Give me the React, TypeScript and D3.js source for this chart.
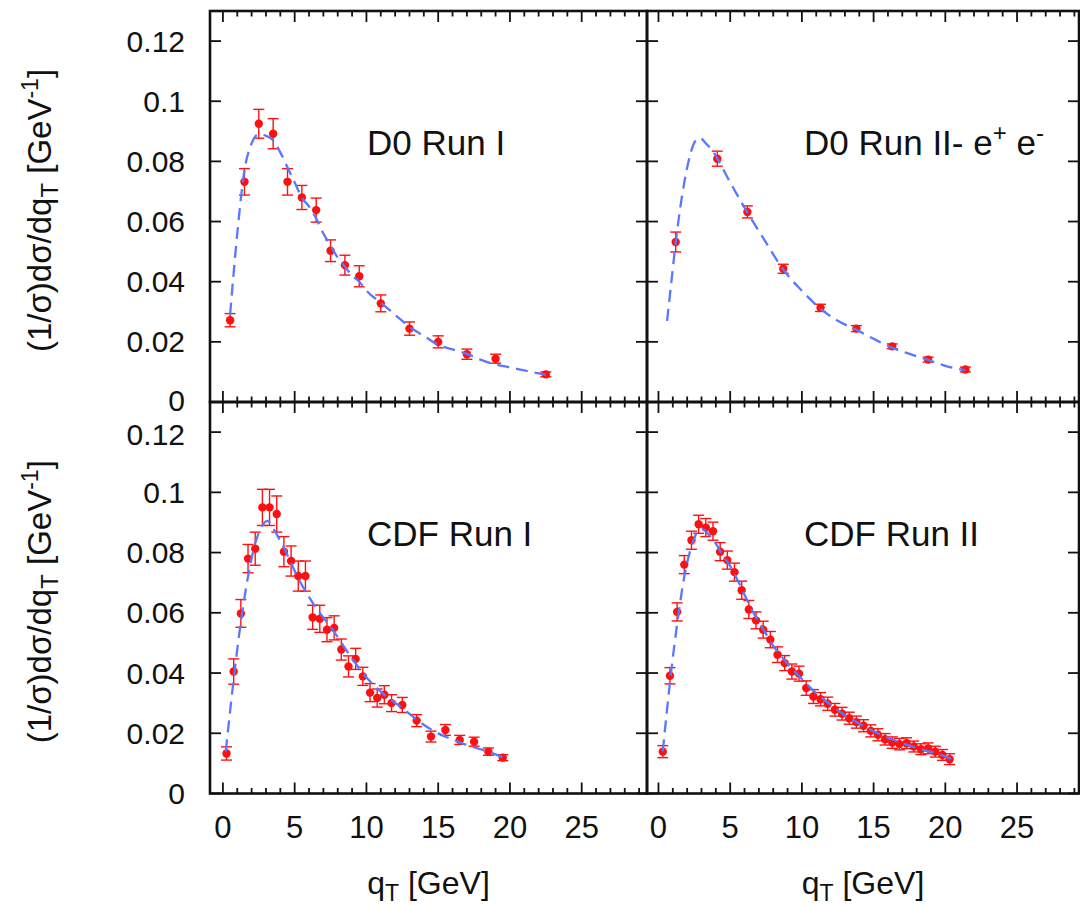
import React from "react";
import * as d3 from "d3";

// ---- axis ticks ----
const X_TICKS = [0, 5, 10, 15, 20, 25];
const X_TICK_LABELS = ["0", "5", "10", "15", "20", "25"];
const Y_TICKS = [0, 0.02, 0.04, 0.06, 0.08, 0.1, 0.12];
const Y_TICK_LABELS = ["0", "0.02", "0.04", "0.06", "0.08", "0.1", "0.12"];

// ---- D0 Run I ----
const d0r1Q = [0.5, 1.5, 2.5, 3.5, 4.5, 5.5, 6.5, 7.5, 8.5, 9.5, 11, 13, 15, 17, 19, 22.5];
const d0r1Val = [0.0272, 0.0732, 0.0925, 0.0892, 0.0732, 0.068, 0.0638, 0.0503, 0.0455, 0.0418, 0.0328, 0.0244, 0.02, 0.0159, 0.0144, 0.0092];
const d0r1Err = [0.0022, 0.0044, 0.0048, 0.005, 0.0044, 0.004, 0.004, 0.0036, 0.0033, 0.0035, 0.0028, 0.0022, 0.002, 0.0017, 0.0015, 0.0008];
const d0r1CurveQ = [0.5, 1, 1.5, 2, 2.5, 3, 3.5, 4, 4.5, 5, 5.5, 6, 6.5, 7, 7.5, 8, 8.5, 9, 9.5, 10, 11, 12, 13, 14, 15, 16, 17, 18, 19, 20, 21, 22, 22.5];
const d0r1CurveVal = [0.029, 0.056, 0.077, 0.086, 0.089, 0.0885, 0.087, 0.083, 0.078, 0.073, 0.068, 0.065, 0.061, 0.056, 0.052, 0.048, 0.045, 0.042, 0.04, 0.037, 0.033, 0.029, 0.025, 0.022, 0.019, 0.0175, 0.016, 0.014, 0.0125, 0.0115, 0.0105, 0.0095, 0.009];

// ---- D0 Run II, e+ e- ----
const d0r2Q = [1.2, 4.1, 6.2, 8.7, 11.3, 13.8, 16.3, 18.8, 21.4];
const d0r2Val = [0.0532, 0.0809, 0.0632, 0.0443, 0.0313, 0.0244, 0.0185, 0.0141, 0.0108];
const d0r2Err = [0.0033, 0.0025, 0.002, 0.0015, 0.0012, 0.001, 0.0008, 0.0008, 0.0008];
const d0r2CurveQ = [0.6, 0.9, 1.2, 1.5, 1.8, 2.2, 2.6, 2.9, 3.3, 3.7, 4.1, 5, 6.2, 7.5, 8.7, 10, 11.3, 12.5, 13.8, 15, 16.3, 17.5, 18.8, 20, 21.4];
const d0r2CurveVal = [0.027, 0.04, 0.053, 0.064, 0.073, 0.082, 0.087, 0.0878, 0.086, 0.084, 0.081, 0.073, 0.063, 0.053, 0.044, 0.037, 0.031, 0.027, 0.024, 0.021, 0.018, 0.016, 0.014, 0.012, 0.0105];

// ---- CDF Run I ----
const cdfr1Q = [0.25, 0.75, 1.25, 1.75, 2.25, 2.75, 3.25, 3.75, 4.25, 4.75, 5.25, 5.75, 6.25, 6.75, 7.25, 7.75, 8.25, 8.75, 9.25, 9.75, 10.25, 10.75, 11.25, 11.75, 12.5, 13.5, 14.5, 15.5, 16.5, 17.5, 18.5, 19.5];
const cdfr1Val = [0.0133, 0.0405, 0.0598, 0.078, 0.0813, 0.095, 0.095, 0.0928, 0.0803, 0.0772, 0.0722, 0.0722, 0.0585, 0.058, 0.0544, 0.055, 0.0478, 0.0422, 0.0447, 0.0389, 0.0335, 0.0317, 0.0328, 0.03, 0.0294, 0.0242, 0.0189, 0.0211, 0.0178, 0.0172, 0.0139, 0.0119];
const cdfr1Err = [0.0022, 0.0042, 0.0046, 0.0047, 0.0055, 0.006, 0.006, 0.006, 0.005, 0.005, 0.005, 0.005, 0.004, 0.0045, 0.004, 0.004, 0.0035, 0.0035, 0.0035, 0.003, 0.003, 0.003, 0.003, 0.0028, 0.0025, 0.002, 0.0018, 0.0018, 0.0015, 0.0015, 0.0012, 0.001];
const cdfr1CurveQ = [0.2, 0.8, 1.25, 1.75, 2.25, 2.75, 3.1, 3.5, 4.2, 5.3, 6.3, 7.7, 8.9, 10.1, 11.2, 12.6, 13.5, 14.6, 16.5, 18.8, 19.5];
const cdfr1CurveVal = [0.014, 0.04, 0.057, 0.072, 0.083, 0.089, 0.0905, 0.088, 0.082, 0.071, 0.063, 0.054, 0.0455, 0.038, 0.033, 0.028, 0.0245, 0.021, 0.017, 0.0133, 0.012];

// ---- CDF Run II ----
const cdfr2Q = [0.3, 0.8, 1.3, 1.8, 2.3, 2.8, 3.3, 3.8, 4.3, 4.8, 5.3, 5.8, 6.3, 6.8, 7.3, 7.8, 8.3, 8.8, 9.3, 9.8, 10.3, 10.8, 11.3, 11.8, 12.3, 12.8, 13.3, 13.8, 14.3, 14.8, 15.3, 15.8, 16.3, 16.8, 17.3, 17.8, 18.3, 18.8, 19.3, 19.8, 20.3];
const cdfr2Val = [0.0139, 0.0391, 0.0603, 0.076, 0.0841, 0.0894, 0.0883, 0.0871, 0.0803, 0.0775, 0.0735, 0.0675, 0.0611, 0.0575, 0.0544, 0.0511, 0.0461, 0.0433, 0.0405, 0.0398, 0.035, 0.0322, 0.0313, 0.0298, 0.0278, 0.0265, 0.025, 0.0237, 0.0225, 0.0208, 0.0195, 0.018, 0.0169, 0.0164, 0.0167, 0.0156, 0.0147, 0.015, 0.0139, 0.0128, 0.0114];
const cdfr2Err = [0.002, 0.0027, 0.003, 0.003, 0.003, 0.003, 0.003, 0.003, 0.003, 0.003, 0.003, 0.003, 0.003, 0.0028, 0.0028, 0.0027, 0.0026, 0.0025, 0.0025, 0.0025, 0.0024, 0.0023, 0.0022, 0.0022, 0.0021, 0.0021, 0.002, 0.002, 0.002, 0.002, 0.002, 0.0019, 0.0019, 0.0019, 0.0018, 0.0018, 0.0018, 0.0018, 0.0018, 0.0018, 0.0018];
const cdfr2CurveQ = [0.3, 0.85, 1.35, 1.8, 2.3, 2.8, 3.1, 3.5, 4, 4.5, 5, 5.5, 6, 6.5, 7, 7.5, 8, 8.5, 9, 9.5, 10, 10.5, 11, 12, 13, 14, 15, 16, 17, 18, 19, 20, 20.4];
const cdfr2CurveVal = [0.014, 0.039, 0.058, 0.072, 0.082, 0.0873, 0.0877, 0.086, 0.083, 0.079, 0.0755, 0.071, 0.066, 0.061, 0.057, 0.053, 0.049, 0.046, 0.043, 0.0405, 0.038, 0.0355, 0.0333, 0.0295, 0.026, 0.0232, 0.0207, 0.0185, 0.0167, 0.0152, 0.0138, 0.0123, 0.0115];

const FONT = "'Liberation Sans', Arial, Helvetica, sans-serif";
const RED = "#ff1010";
const BLUE = "#5a78ff";
const INK = "#111";

type PanelProps = {
  left: number;
  right: number;
  top: number;
  bottom: number;
  xDomain: [number, number];
  q: number[];
  val: number[];
  err: number[];
  curveQ: number[];
  curveVal: number[];
  title: React.ReactNode;
  yLabels: boolean;
  xLabels: boolean;
  // nudges the lowest / highest y tick label apart where two panels meet
  yLabelEdgeShift: [number, number];
};

function Panel(p: PanelProps) {
  const x = d3.scaleLinear().domain(p.xDomain).range([p.left, p.right]);
  const y = d3.scaleLinear().domain([0, 0.13]).range([p.bottom, p.top]);
  const majorLen = 11;
  const minorLen = 5.5;
  const minors = d3.range(0, 30).filter((v) => v % 5 !== 0 && v > p.xDomain[0] && v < p.xDomain[1]);

  const curvePts: [number, number][] = p.curveQ.map((qv, i) => [qv, p.curveVal[i]]);
  const line = d3
    .line<[number, number]>()
    .x((d) => x(d[0]))
    .y((d) => y(d[1]))
    .curve(d3.curveMonotoneX);

  const cap = 5.5;
  const last = Y_TICKS.length - 1;
  return (
    <g>
      {/* error bars and points */}
      <g>
        {p.q.map((qv, i) => {
          const cx = x(qv);
          const lo = y(p.val[i] - p.err[i]);
          const hi = y(p.val[i] + p.err[i]);
          return (
            <g key={i} stroke={RED} strokeWidth={1.4}>
              <line x1={cx} x2={cx} y1={lo} y2={hi} />
              <line x1={cx - cap} x2={cx + cap} y1={lo} y2={lo} />
              <line x1={cx - cap} x2={cx + cap} y1={hi} y2={hi} />
            </g>
          );
        })}
        {p.q.map((qv, i) => (
          <circle key={i} cx={x(qv)} cy={y(p.val[i])} r={4.2} fill={RED} />
        ))}
      </g>
      {/* theory curve */}
      <path d={line(curvePts) || ""} fill="none" stroke={BLUE} strokeWidth={2.3} strokeDasharray="12 7" />

      {/* frame */}
      <rect x={p.left} y={p.top} width={p.right - p.left} height={p.bottom - p.top} fill="none" stroke={INK} strokeWidth={2.6} />

      {/* ticks on all four sides */}
      <g stroke={INK} strokeWidth={1.8}>
        {X_TICKS.map((t) => (
          <g key={"M" + t}>
            <line x1={x(t)} x2={x(t)} y1={p.bottom} y2={p.bottom - majorLen} />
            <line x1={x(t)} x2={x(t)} y1={p.top} y2={p.top + majorLen} />
          </g>
        ))}
        {minors.map((t) => (
          <g key={"m" + t}>
            <line x1={x(t)} x2={x(t)} y1={p.bottom} y2={p.bottom - minorLen} />
            <line x1={x(t)} x2={x(t)} y1={p.top} y2={p.top + minorLen} />
          </g>
        ))}
        {Y_TICKS.map((t) => (
          <g key={"y" + t}>
            <line x1={p.left} x2={p.left + majorLen} y1={y(t)} y2={y(t)} />
            <line x1={p.right} x2={p.right - majorLen} y1={y(t)} y2={y(t)} />
          </g>
        ))}
      </g>

      {p.yLabels &&
        Y_TICKS.map((t, i) => {
          const shift = i === 0 ? p.yLabelEdgeShift[0] : i === last ? p.yLabelEdgeShift[1] : 0;
          return (
            <text key={"yl" + t} x={p.left - 25} y={y(t) + shift} dy="0.35em" textAnchor="end" fontSize={30} fontFamily={FONT} fill={INK}>
              {Y_TICK_LABELS[i]}
            </text>
          );
        })}
      {p.xLabels &&
        X_TICKS.map((t, i) => (
          <text key={"xl" + t} x={x(t)} y={p.bottom + 44} textAnchor="middle" fontSize={31} fontFamily={FONT} fill={INK}>
            {X_TICK_LABELS[i]}
          </text>
        ))}
      {p.xLabels && (
        <text x={(p.left + p.right) / 2} y={p.bottom + 100} textAnchor="middle" fontSize={32} fontFamily={FONT} fill={INK}>
          q<tspan fontSize={23} dy={7}>T</tspan>
          <tspan dy={-7}> [GeV]</tspan>
        </text>
      )}
      {p.yLabels && (
        <text
          transform={`translate(51, ${(p.top + p.bottom) / 2 + 4}) rotate(-90)`}
          textAnchor="middle"
          fontSize={33}
          fontFamily={FONT}
          fill={INK}
        >
          (1/σ)dσ/dq<tspan fontSize={24} dy={7}>T</tspan>
          <tspan dy={-7}> [GeV</tspan>
          <tspan fontSize={23} dy={-13}>-1</tspan>
          <tspan dy={13}>]</tspan>
        </text>
      )}

      <text x={p.left + 157} y={p.top + 144} fontSize={35} fontFamily={FONT} fill={INK}>
        {p.title}
      </text>
    </g>
  );
}

export default function App() {
  const L0 = 210;
  const MID = 647;
  const R1 = 1079;
  const T0 = 11;
  const HMID = 402;
  const B1 = 793.5;
  return (
    <div style={{ position: "absolute", left: 0, top: 0 }}>
      <svg width={1080} height={906} style={{ display: "block", background: "#fff" }}>
        <rect width={1080} height={906} fill="#fff" />
        <Panel
          left={L0}
          right={MID}
          top={T0}
          bottom={HMID}
          xDomain={[-0.9, 29.55]}
          q={d0r1Q}
          val={d0r1Val}
          err={d0r1Err}
          curveQ={d0r1CurveQ}
          curveVal={d0r1CurveVal}
          title="D0 Run I"
          yLabels={true}
          xLabels={false}
          yLabelEdgeShift={[-2, 0]}
        />
        <Panel
          left={MID}
          right={R1}
          top={T0}
          bottom={HMID}
          xDomain={[-0.8, 29.32]}
          q={d0r2Q}
          val={d0r2Val}
          err={d0r2Err}
          curveQ={d0r2CurveQ}
          curveVal={d0r2CurveVal}
          title={
            <>
              D0 Run II- e<tspan fontSize={24} dy={-14}>+</tspan>
              <tspan dy={14}> e</tspan>
              <tspan fontSize={24} dy={-14}>-</tspan>
            </>
          }
          yLabels={false}
          xLabels={false}
          yLabelEdgeShift={[0, 0]}
        />
        <Panel
          left={L0}
          right={MID}
          top={HMID}
          bottom={B1}
          xDomain={[-0.9, 29.55]}
          q={cdfr1Q}
          val={cdfr1Val}
          err={cdfr1Err}
          curveQ={cdfr1CurveQ}
          curveVal={cdfr1CurveVal}
          title="CDF Run I"
          yLabels={true}
          xLabels={true}
          yLabelEdgeShift={[0, 2]}
        />
        <Panel
          left={MID}
          right={R1}
          top={HMID}
          bottom={B1}
          xDomain={[-0.8, 29.32]}
          q={cdfr2Q}
          val={cdfr2Val}
          err={cdfr2Err}
          curveQ={cdfr2CurveQ}
          curveVal={cdfr2CurveVal}
          title="CDF Run II"
          yLabels={false}
          xLabels={true}
          yLabelEdgeShift={[0, 0]}
        />
      </svg>
    </div>
  );
}
